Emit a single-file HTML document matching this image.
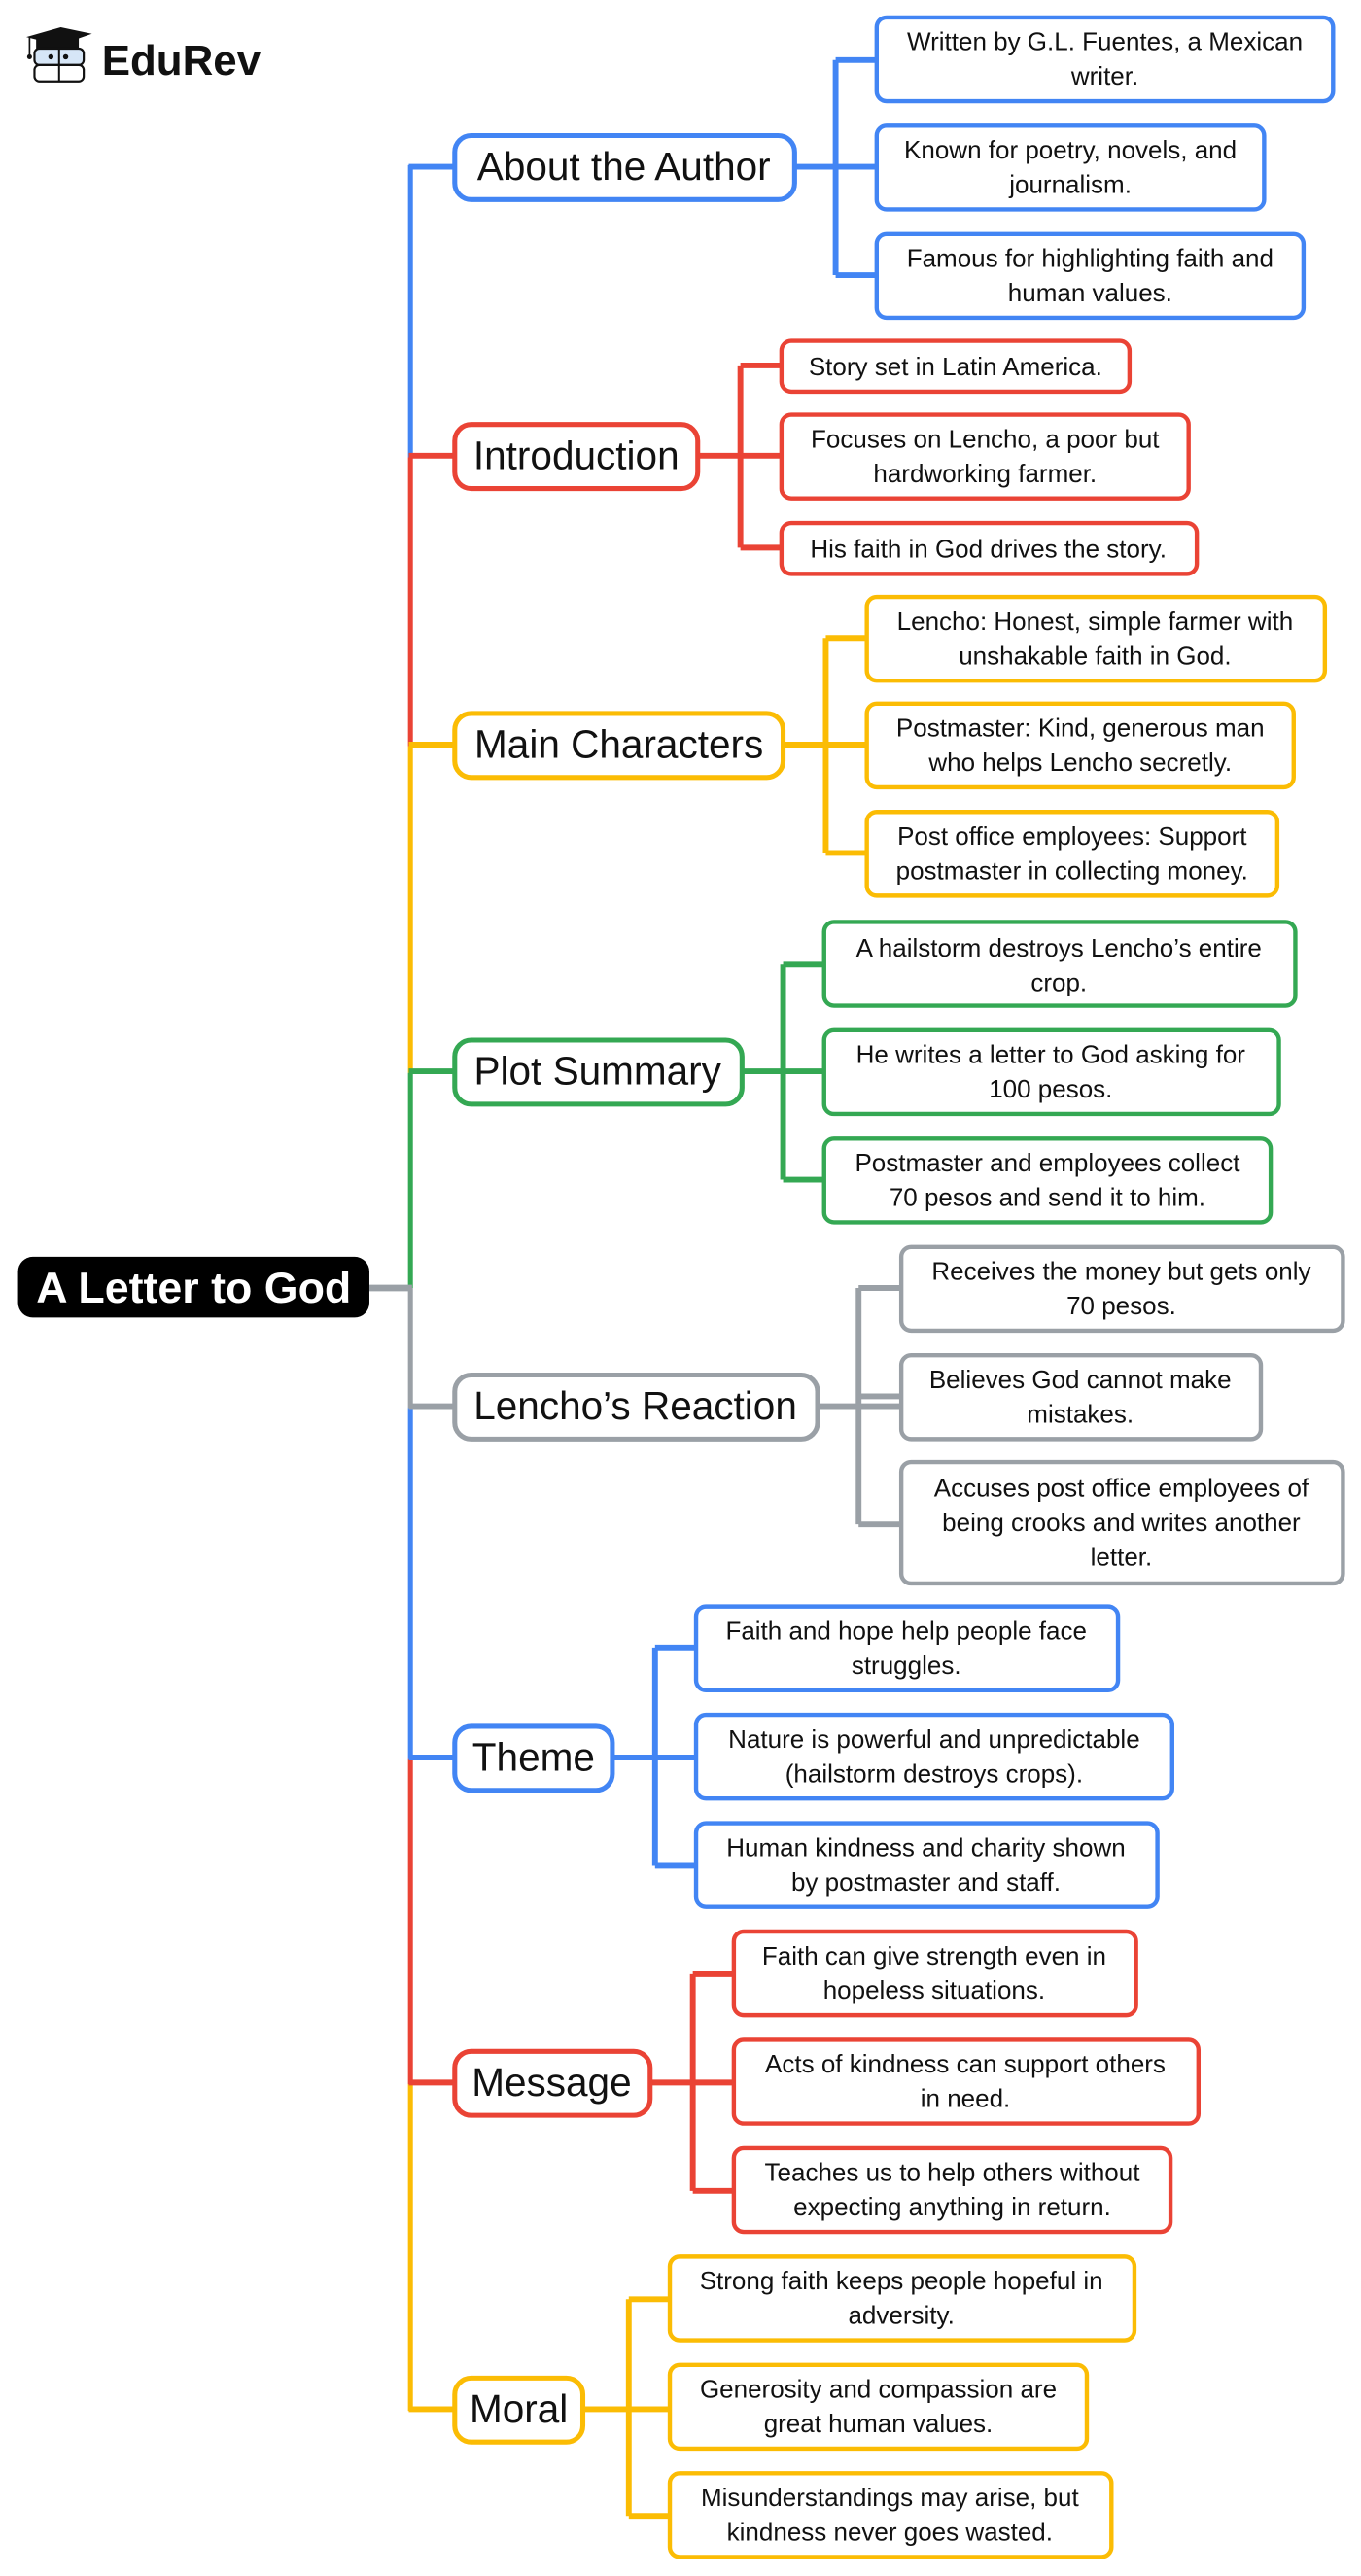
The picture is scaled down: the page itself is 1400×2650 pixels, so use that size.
<!DOCTYPE html>
<html><head><meta charset="utf-8"><style>
html,body{margin:0;padding:0;background:#fff;}
svg{display:block;}
text{font-family:"Liberation Sans",Arial,sans-serif;fill:#111;}
.c{font-size:15.4px;text-anchor:middle;}
.l{font-size:24px;text-anchor:middle;}
</style></head><body>
<svg width="1400" height="2650" viewBox="0 0 829 1568" xmlns="http://www.w3.org/2000/svg">
<!-- logo -->
<g>
<polygon points="16,22 37,16 56,20 36,27" fill="#111"/>
<rect x="22" y="22" width="26" height="7" fill="#111"/>
<line x1="18" y1="22" x2="18" y2="33" stroke="#111" stroke-width="1"/>
<circle cx="18" cy="34" r="1.5" fill="#111"/>
<rect x="21" y="29" width="30" height="10" rx="3" fill="#d6e6f7" stroke="#111" stroke-width="1.3"/>
<rect x="21" y="39" width="30" height="10" rx="3" fill="#fff" stroke="#111" stroke-width="1.3"/>
<line x1="36" y1="29" x2="36" y2="49" stroke="#111" stroke-width="1.2"/>
<circle cx="31" cy="34" r="1.6" fill="#111"/><circle cx="40" cy="34" r="1.6" fill="#111"/>
<text x="62" y="45" style="font-size:26px;font-weight:bold;fill:#111">EduRev</text>
</g>
<!-- trunk -->
<g stroke-width="3" fill="none">
<line x1="250" y1="100" x2="250" y2="278" stroke="#4285F4"/>
<line x1="250" y1="278" x2="250" y2="454" stroke="#EA4335"/>
<line x1="250" y1="454" x2="250" y2="653" stroke="#FBBC04"/>
<line x1="250" y1="653" x2="250" y2="784" stroke="#34A853"/>
<line x1="250" y1="784" x2="250" y2="857" stroke="#9AA0A6"/>
<line x1="250" y1="857" x2="250" y2="1071" stroke="#4285F4"/>
<line x1="250" y1="1071" x2="250" y2="1269" stroke="#EA4335"/>
<line x1="250" y1="1269" x2="250" y2="1468" stroke="#FBBC04"/>
</g>
<line x1="225" y1="784" x2="251" y2="784" stroke="#9AA0A6" stroke-width="4"/>
<rect x="11" y="765" width="214" height="37" rx="9" fill="#000"/>
<text x="118" y="793" style="font-size:26.5px;font-weight:bold;fill:#fff;text-anchor:middle">A Letter to God</text>

<!-- About the Author -->
<g stroke="#4285F4" fill="none">
<path d="M249 101H277M484 101H534M509 36V167M509 36H534M509 167H534" stroke-width="3.5"/>
<rect x="277" y="82" width="207" height="39" rx="10" fill="#fff" stroke-width="3"/>
<rect x="534" y="10" width="278" height="51" rx="6" fill="#fff" stroke-width="2.6"/>
<rect x="534" y="76" width="236" height="51" rx="6" fill="#fff" stroke-width="2.6"/>
<rect x="534" y="142" width="260" height="51" rx="6" fill="#fff" stroke-width="2.6"/>
</g>
<text class="l" x="380" y="109">About the Author</text>
<text class="c" x="673" y="30">Written by G.L. Fuentes, a Mexican</text><text class="c" x="673" y="51">writer.</text>
<text class="c" x="652" y="96">Known for poetry, novels, and</text><text class="c" x="652" y="117">journalism.</text>
<text class="c" x="664" y="162">Famous for highlighting faith and</text><text class="c" x="664" y="183">human values.</text>

<!-- Introduction -->
<g stroke="#EA4335" fill="none">
<path d="M249 277H277M425 277H476M451 222V333M451 222H476M451 333H476" stroke-width="3.5"/>
<rect x="277" y="258" width="148" height="39" rx="10" fill="#fff" stroke-width="3"/>
<rect x="476" y="207" width="212" height="31" rx="6" fill="#fff" stroke-width="2.6"/>
<rect x="476" y="252" width="248" height="51" rx="6" fill="#fff" stroke-width="2.6"/>
<rect x="476" y="318" width="253" height="31" rx="6" fill="#fff" stroke-width="2.6"/>
</g>
<text class="l" x="351" y="285">Introduction</text>
<text class="c" x="582" y="228">Story set in Latin America.</text>
<text class="c" x="600" y="272">Focuses on Lencho, a poor but</text><text class="c" x="600" y="293">hardworking farmer.</text>
<text class="c" x="602" y="339">His faith in God drives the story.</text>

<!-- Main Characters -->
<g stroke="#FBBC04" fill="none">
<path d="M249 453H277M477 453H528M503 388V519M503 388H528M503 519H528" stroke-width="3.5"/>
<rect x="277" y="434" width="200" height="39" rx="10" fill="#fff" stroke-width="3"/>
<rect x="528" y="363" width="279" height="51" rx="6" fill="#fff" stroke-width="2.6"/>
<rect x="528" y="428" width="260" height="51" rx="6" fill="#fff" stroke-width="2.6"/>
<rect x="528" y="494" width="250" height="51" rx="6" fill="#fff" stroke-width="2.6"/>
</g>
<text class="l" x="377" y="461">Main Characters</text>
<text class="c" x="667" y="383">Lencho: Honest, simple farmer with</text><text class="c" x="667" y="404">unshakable faith in God.</text>
<text class="c" x="658" y="448">Postmaster: Kind, generous man</text><text class="c" x="658" y="469">who helps Lencho secretly.</text>
<text class="c" x="653" y="514">Post office employees: Support</text><text class="c" x="653" y="535">postmaster in collecting money.</text>

<!-- Plot Summary -->
<g stroke="#34A853" fill="none">
<path d="M249 652H277M452 652H502M477 587V718M477 587H502M477 718H502" stroke-width="3.5"/>
<rect x="277" y="633" width="175" height="39" rx="10" fill="#fff" stroke-width="3"/>
<rect x="502" y="561" width="287" height="51" rx="6" fill="#fff" stroke-width="2.6"/>
<rect x="502" y="627" width="277" height="51" rx="6" fill="#fff" stroke-width="2.6"/>
<rect x="502" y="693" width="272" height="51" rx="6" fill="#fff" stroke-width="2.6"/>
</g>
<text class="l" x="364" y="660">Plot Summary</text>
<text class="c" x="645" y="582">A hailstorm destroys Lencho’s entire</text><text class="c" x="645" y="603">crop.</text>
<text class="c" x="640" y="647">He writes a letter to God asking for</text><text class="c" x="640" y="668">100 pesos.</text>
<text class="c" x="638" y="713">Postmaster and employees collect</text><text class="c" x="638" y="734">70 pesos and send it to him.</text>

<!-- Lencho's Reaction -->
<g stroke="#9AA0A6" fill="none">
<path d="M249 856H277M498 856H549M523 784V928M523 784H549M523 850H549M523 928H549" stroke-width="3.5"/>
<rect x="277" y="837" width="221" height="39" rx="10" fill="#fff" stroke-width="3"/>
<rect x="549" y="759" width="269" height="51" rx="6" fill="#fff" stroke-width="2.6"/>
<rect x="549" y="825" width="219" height="51" rx="6" fill="#fff" stroke-width="2.6"/>
<rect x="549" y="890" width="269" height="74" rx="6" fill="#fff" stroke-width="2.6"/>
</g>
<text class="l" x="387" y="864">Lencho’s Reaction</text>
<text class="c" x="683" y="779">Receives the money but gets only</text><text class="c" x="683" y="800">70 pesos.</text>
<text class="c" x="658" y="845">Believes God cannot make</text><text class="c" x="658" y="866">mistakes.</text>
<text class="c" x="683" y="911">Accuses post office employees of</text><text class="c" x="683" y="932">being crooks and writes another</text><text class="c" x="683" y="953">letter.</text>

<!-- Theme -->
<g stroke="#4285F4" fill="none">
<path d="M249 1070H277M373 1070H424M399 1003V1136M399 1003H424M399 1136H424" stroke-width="3.5"/>
<rect x="277" y="1051" width="96" height="39" rx="10" fill="#fff" stroke-width="3"/>
<rect x="424" y="978" width="257" height="51" rx="6" fill="#fff" stroke-width="2.6"/>
<rect x="424" y="1044" width="290" height="51" rx="6" fill="#fff" stroke-width="2.6"/>
<rect x="424" y="1110" width="281" height="51" rx="6" fill="#fff" stroke-width="2.6"/>
</g>
<text class="l" x="325" y="1078">Theme</text>
<text class="c" x="552" y="998">Faith and hope help people face</text><text class="c" x="552" y="1019">struggles.</text>
<text class="c" x="569" y="1064">Nature is powerful and unpredictable</text><text class="c" x="569" y="1085">(hailstorm destroys crops).</text>
<text class="c" x="564" y="1130">Human kindness and charity shown</text><text class="c" x="564" y="1151">by postmaster and staff.</text>

<!-- Message -->
<g stroke="#EA4335" fill="none">
<path d="M249 1268H277M396 1268H447M422 1202V1334M422 1202H447M422 1334H447" stroke-width="3.5"/>
<rect x="277" y="1249" width="119" height="39" rx="10" fill="#fff" stroke-width="3"/>
<rect x="447" y="1176" width="245" height="51" rx="6" fill="#fff" stroke-width="2.6"/>
<rect x="447" y="1242" width="283" height="51" rx="6" fill="#fff" stroke-width="2.6"/>
<rect x="447" y="1308" width="266" height="51" rx="6" fill="#fff" stroke-width="2.6"/>
</g>
<text class="l" x="336" y="1276">Message</text>
<text class="c" x="569" y="1196">Faith can give strength even in</text><text class="c" x="569" y="1217">hopeless situations.</text>
<text class="c" x="588" y="1262">Acts of kindness can support others</text><text class="c" x="588" y="1283">in need.</text>
<text class="c" x="580" y="1328">Teaches us to help others without</text><text class="c" x="580" y="1349">expecting anything in return.</text>

<!-- Moral -->
<g stroke="#FBBC04" fill="none">
<path d="M249 1467H277M355 1467H408M383 1400V1532M383 1400H408M383 1532H408" stroke-width="3.5"/>
<rect x="277" y="1448" width="78" height="39" rx="10" fill="#fff" stroke-width="3"/>
<rect x="408" y="1374" width="283" height="51" rx="6" fill="#fff" stroke-width="2.6"/>
<rect x="408" y="1440" width="254" height="51" rx="6" fill="#fff" stroke-width="2.6"/>
<rect x="408" y="1506" width="269" height="51" rx="6" fill="#fff" stroke-width="2.6"/>
</g>
<text class="l" x="316" y="1475">Moral</text>
<text class="c" x="549" y="1394">Strong faith keeps people hopeful in</text><text class="c" x="549" y="1415">adversity.</text>
<text class="c" x="535" y="1460">Generosity and compassion are</text><text class="c" x="535" y="1481">great human values.</text>
<text class="c" x="542" y="1526">Misunderstandings may arise, but</text><text class="c" x="542" y="1547">kindness never goes wasted.</text>
</svg>
</body></html>
